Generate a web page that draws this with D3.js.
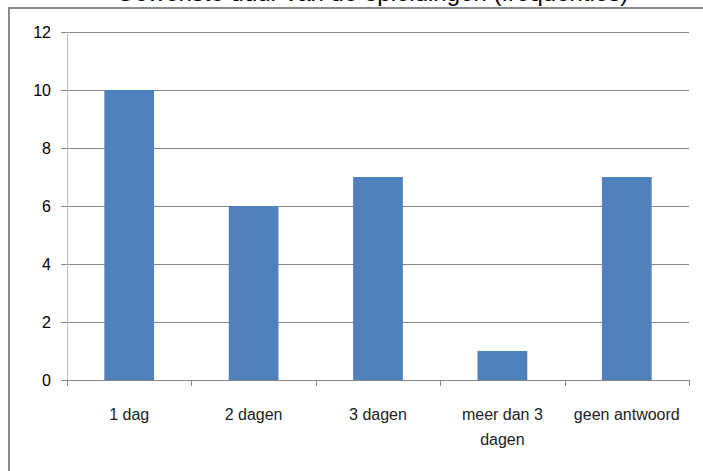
<!DOCTYPE html>
<html>
<head>
<meta charset="utf-8">
<script src="https://cdn.jsdelivr.net/npm/d3@7"></script>
<style>
  body { margin: 0; background: #fff; }
  svg text { font-family: "Liberation Sans", Arial, sans-serif; }
</style>
</head>
<body>
<div id="chart"></div>
<script>
// data
var categories = ["1 dag", "2 dagen", "3 dagen", "meer dan 3 dagen", "geen antwoord"];
var counts = [10, 6, 7, 1, 7];
var yTicks = [0, 2, 4, 6, 8, 10, 12];
var titleText = "Gewenste duur van de opleidingen (frequenties)";

var svgWidth = 703;
var svgHeight = 471;

var margin = { top: 32, right: 14, bottom: 91, left: 67 };
var width = svgWidth - margin.left - margin.right;
var height = svgHeight - margin.top - margin.bottom;

var svg = d3.select("#chart")
  .append("svg")
  .attr("width", svgWidth)
  .attr("height", svgHeight);

// chart border (cut off on right and bottom)
svg.append("rect")
  .attr("x", 9)
  .attr("y", 8)
  .attr("width", svgWidth)
  .attr("height", svgHeight)
  .attr("fill", "none")
  .attr("stroke", "#8a8a8a")
  .attr("stroke-width", 2);

// title, mostly cut off at top
svg.append("text")
  .attr("x", 372)
  .attr("y", 1)
  .attr("text-anchor", "middle")
  .attr("font-size", 24)
  .attr("fill", "#000")
  .text(titleText);

var chartGroup = svg.append("g")
  .attr("transform", `translate(${margin.left}, ${margin.top})`);

var xScale = d3.scaleBand()
  .domain(categories)
  .range([0, width])
  .paddingInner(0.6)
  .paddingOuter(0.3);

var yScale = d3.scaleLinear()
  .domain([0, 12])
  .range([height, 0]);

// gridlines
chartGroup.append("g")
  .selectAll("line")
  .data(yTicks.filter(d => d > 0))
  .enter()
  .append("line")
  .attr("x1", -6)
  .attr("x2", width)
  .attr("y1", d => Math.round(yScale(d)) + 0.5)
  .attr("y2", d => Math.round(yScale(d)) + 0.5)
  .attr("stroke", "#868686")
  .attr("stroke-width", 1);

// y axis
var leftAxis = d3.axisLeft(yScale)
  .tickValues(yTicks)
  .tickSize(6)
  .tickPadding(10);

var yAxis = chartGroup.append("g")
  .call(leftAxis);
yAxis.select(".domain").attr("stroke", "#bdbdbd").attr("d", `M0.5,0V${height}`);
yAxis.selectAll(".tick line").attr("stroke", "#868686");
yAxis.selectAll("text")
  .attr("font-size", 16)
  .attr("fill", "#000")
  .style("font-family", "Liberation Sans, Arial, sans-serif");

// bars
chartGroup.selectAll(".bar")
  .data(counts)
  .enter()
  .append("rect")
  .attr("class", "bar")
  .attr("x", (d, i) => xScale(categories[i]))
  .attr("width", xScale.bandwidth())
  .attr("y", d => yScale(d))
  .attr("height", d => height - yScale(d))
  .attr("fill", "#4f81bd");

// x axis
var step = xScale.step();
var bounds = d3.range(categories.length + 1).map(i => i * width / categories.length);

var xAxisGroup = chartGroup.append("g")
  .attr("transform", `translate(0, ${height})`);

xAxisGroup.append("line")
  .attr("x1", -6)
  .attr("x2", width)
  .attr("y1", 0.5)
  .attr("y2", 0.5)
  .attr("stroke", "#868686");

xAxisGroup.selectAll(".xtick")
  .data(bounds)
  .enter()
  .append("line")
  .attr("class", "xtick")
  .attr("x1", d => Math.round(d) + 0.5)
  .attr("x2", d => Math.round(d) + 0.5)
  .attr("y1", 0)
  .attr("y2", 6)
  .attr("stroke", "#868686");

// x labels, wrapped like the original
var labelLines = [["1 dag"], ["2 dagen"], ["3 dagen"], ["meer dan 3", "dagen"], ["geen antwoord"]];

xAxisGroup.selectAll(".xlabel")
  .data(categories)
  .enter()
  .append("text")
  .attr("class", "xlabel")
  .attr("x", d => xScale(d) + xScale.bandwidth() / 2)
  .attr("y", 40)
  .attr("text-anchor", "middle")
  .attr("font-size", 16)
  .attr("fill", "#222")
  .each(function(d, i) {
    var t = d3.select(this);
    labelLines[i].forEach(function(line, j) {
      t.append("tspan")
        .attr("x", xScale(d) + xScale.bandwidth() / 2)
        .attr("dy", j === 0 ? 0 : 25)
        .text(line);
    });
  });
</script>
</body>
</html>
